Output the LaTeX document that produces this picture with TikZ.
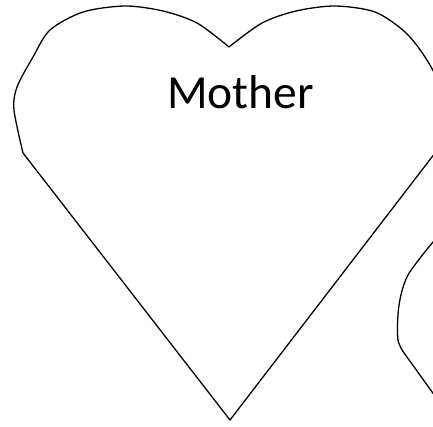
\documentclass[tikz,border=0pt]{standalone}
\usepackage{fontspec}
\setmainfont{Carlito}
\begin{document}
\begin{tikzpicture}[x=1pt,y=-1pt,
  heartline/.style={line width=1.3pt,line join=round,draw=black}]
\useasboundingbox (0,0) rectangle (433,426);
\clip (0,0) rectangle (433,426);
% main heart
\draw[heartline]
  plot[smooth,tension=0.5] coordinates {(229,47) (197,23) (163,11) (125,6) (83,12) (50,30) (33,57) (17,87) (14,110) (23,153)}
  -- (230,420) -- (435,153)
  plot[smooth,tension=0.5] coordinates {(435,153) (444,110) (441,87) (425,57) (405,32) (375,12) (335,6) (296,11) (262,23) (229,47)};
% partial second heart at the right edge
\draw[heartline]
  (445,228) -- (433,242)
  plot[smooth,tension=0.5] coordinates {(433,242) (408,275) (399,305) (398,340) (407,357)}
  -- (445,410);
\node[font=\fontsize{47.5}{56}\selectfont,anchor=base] (mother) at (240.5,108) {Mother};
\end{tikzpicture}
\end{document}
